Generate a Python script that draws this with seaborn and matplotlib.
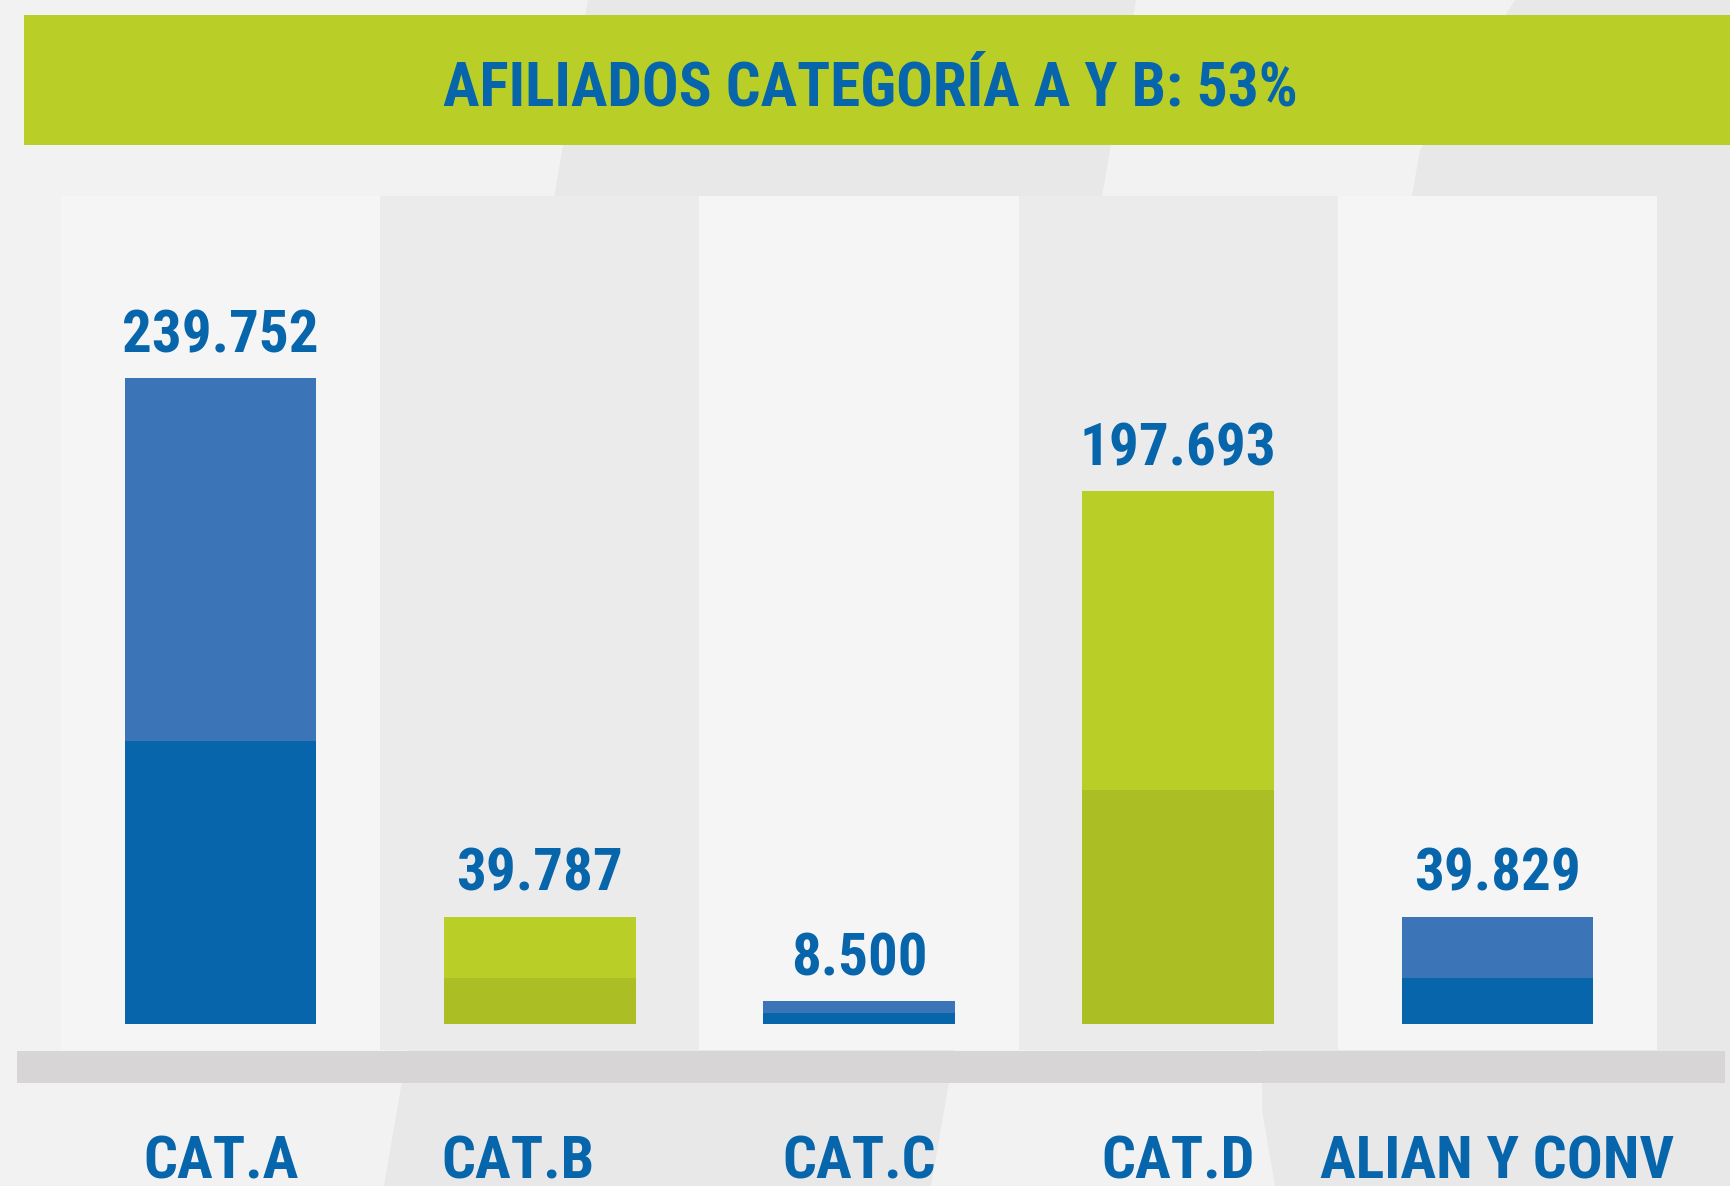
import matplotlib

matplotlib.use("Agg")
import matplotlib.pyplot as plt
import matplotlib.transforms as mtransforms
from matplotlib.patches import Rectangle, Polygon
import seaborn as sns


CATEGORIES = ["CAT.A", "CAT.B", "CAT.C", "CAT.D", "ALIAN Y CONV"]
TOTALS = [239752, 39787, 8500, 197693, 39829]
# darker lower part of each bar
LOWER = [104900, 17000, 4000, 86800, 17000]
TITLE = "AFILIADOS CATEGORÍA A Y B: 53%"

BLUE_UP = "#3b74b7"
BLUE_LOW = "#0765ab"
GREEN_UP = "#b9cf27"
GREEN_LOW = "#abbe24"
UPPER_COLORS = [BLUE_UP, GREEN_UP, BLUE_UP, GREEN_UP, BLUE_UP]
LOWER_COLORS = [BLUE_LOW, GREEN_LOW, BLUE_LOW, GREEN_LOW, BLUE_LOW]
PANEL_COLORS = ["#f5f5f5", "#ebebeb"]
TEXT_COLOR = "#0765ab"
RAIL_COLOR = "#d7d5d6"

W, H = 1730, 1186

sns.set_style("white")
plt.rcParams["font.family"] = ["Roboto Condensed", "Liberation Sans Narrow",
                               "DejaVu Sans"]
plt.rcParams["font.stretch"] = "condensed"
plt.rcParams["font.weight"] = "bold"

fig = plt.figure(figsize=(W / 100, H / 100), dpi=100)
fig.patch.set_facecolor("#f2f2f2")

# background decoration in pixel coords
bg = fig.add_axes([0, 0, 1, 1], zorder=-1)
bg.set_xlim(0, W)
bg.set_ylim(H, 0)
bg.axis("off")
bg.add_patch(Polygon([(588, 0), (1136, 0), (931, H), (384, H)], color="#e8e8e8", lw=0))
bg.add_patch(Polygon([(1515, 0), (1420, 150), (1262, 1050), (1262, 1110),
                      (1275, H), (W, H), (W, 0)], color="#e8e8e8", lw=0))
bg.add_patch(Rectangle((24, 15), W - 24, 130, color=GREEN_UP, lw=0))
bg.add_patch(Rectangle((17, 1051), 1708, 32, color=RAIL_COLOR, lw=0))
bg.text(870, 106, TITLE, ha="center", va="baseline", fontsize=44,
        color=TEXT_COLOR, fontweight="bold")

ax = fig.add_axes([61 / W, (H - 1050) / H, 1596 / W, 854 / H])
ax.set_facecolor("none")

for i in range(len(CATEGORIES)):
    ax.axvspan(i - 0.5, i + 0.5, color=PANEL_COLORS[i % 2], lw=0, zorder=0)

sns.barplot(x=CATEGORIES, y=TOTALS, hue=CATEGORIES, palette=UPPER_COLORS,
            legend=False, width=0.6, saturation=1, linewidth=0, ax=ax)
n_total = len(ax.containers)
sns.barplot(x=CATEGORIES, y=LOWER, hue=CATEGORIES, palette=LOWER_COLORS,
            legend=False, width=0.6, saturation=1, linewidth=0, ax=ax)

for cont in ax.containers[:n_total]:
    vals = [b.get_height() for b in cont]
    ax.bar_label(cont, labels=[f"{int(v):,}".replace(",", ".") for v in vals],
                 padding=10, fontsize=42.5, color=TEXT_COLOR, fontweight="bold")

ax.set_xlim(-0.5, len(CATEGORIES) - 0.5)
ax.set_ylim(-9650, 307300)
ax.set_xlabel("")
ax.set_ylabel("")
ax.set_yticks([])
sns.despine(ax=ax, left=True, bottom=True)
ax.tick_params(axis="x", length=46.8, width=13, color=RAIL_COLOR, direction="out",
               pad=14, labelsize=43, labelcolor=TEXT_COLOR)
for lab in ax.get_xticklabels():
    lab.set_fontweight("bold")
# CAT.B label sits a little left of its tick in the original
shift = mtransforms.ScaledTranslation(-22 / 100, 0, fig.dpi_scale_trans)
lbl_b = ax.get_xticklabels()[1]
lbl_b.set_transform(lbl_b.get_transform() + shift)

fig.savefig("out.png", dpi=100, facecolor=fig.get_facecolor())
